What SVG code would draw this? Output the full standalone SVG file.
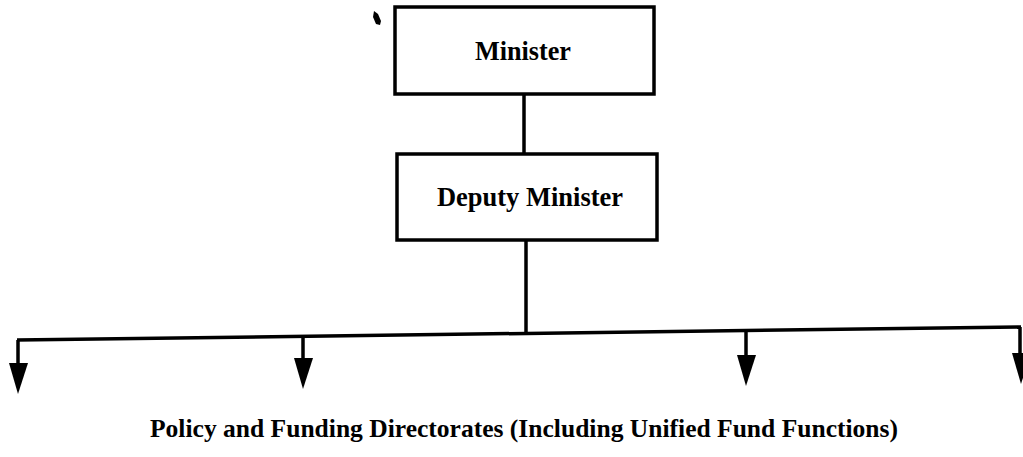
<svg xmlns="http://www.w3.org/2000/svg" width="1023" height="457" viewBox="0 0 1023 457">
<defs>
<style>
.box{fill:#fff;stroke:#000;stroke-width:3.5}
.lbl{font-family:"Liberation Serif","DejaVu Serif",serif;font-weight:bold;fill:#000}
.ln{stroke:#000;stroke-width:3.5;fill:none}
.ah{fill:#000}
</style>
</defs>
<rect width="1023" height="457" fill="#fff"/>
<path d="M374,11 L378,14 L381,21 L380,25 L376,24 L373,17 Z" fill="#000"/>
<g id="connectors">
<line class="ln" x1="524" y1="94" x2="524" y2="153"/>
<line class="ln" x1="526" y1="240" x2="526" y2="332"/>
<line class="ln" x1="17" y1="340" x2="1021" y2="327"/>
<line class="ln" x1="18" y1="340" x2="18" y2="365"/>
<polygon class="ah" points="9,363 28,363 18,394"/>
<line class="ln" x1="303" y1="336" x2="303" y2="360"/>
<polygon class="ah" points="294,358 313,358 303,389"/>
<line class="ln" x1="746" y1="331" x2="746" y2="357"/>
<polygon class="ah" points="737,355 756,355 746,386"/>
<line class="ln" x1="1020" y1="327" x2="1020" y2="355"/>
<polygon class="ah" points="1012,353 1031,353 1021,384"/>
</g>
<g id="minister">
<rect class="box" x="395" y="7" width="259" height="87"/>
<text class="lbl" x="523" y="60" font-size="28" text-anchor="middle" textLength="96" lengthAdjust="spacingAndGlyphs">Minister</text>
</g>
<g id="deputy-minister">
<rect class="box" x="397" y="154" width="260" height="86"/>
<text class="lbl" x="530" y="206" font-size="28" text-anchor="middle" textLength="186" lengthAdjust="spacingAndGlyphs">Deputy Minister</text>
</g>
<g id="directorates">
<text class="lbl" x="150" y="437" font-size="25" textLength="748" lengthAdjust="spacingAndGlyphs">Policy and Funding Directorates (Including Unified Fund Functions)</text>
</g>
</svg>
